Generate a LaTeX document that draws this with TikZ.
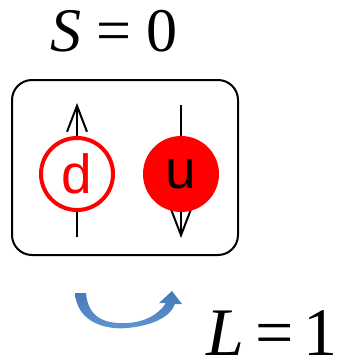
\documentclass[tikz,border=0pt]{standalone}
\usepackage{fontspec}
\setmainfont{Liberation Serif}
\newfontfamily\arialfont{Liberation Sans}
\usetikzlibrary{arrows.meta}
\definecolor{qred}{RGB}{255,0,0}
\definecolor{arrowblue}{RGB}{70,120,180}
\definecolor{arrowlight}{RGB}{95,150,210}
\tikzset{
  quarkopen/.style={circle, draw=qred, line width=4pt, fill=white, minimum size=72pt, inner sep=0pt, font=\arialfont\fontsize{55}{55}\selectfont, text=qred},
  quarkfull/.style={circle, fill=qred, minimum size=76pt, inner sep=0pt, font=\arialfont\fontsize{55}{55}\selectfont, text=black},
  spin/.style={line width=2pt, -{Straight Barb[length=26pt, width=20pt, line width=2pt]}},
  bigmath/.style={inner sep=0pt, anchor=base}
}
\begin{document}
\begin{tikzpicture}[x=1pt, y=-1pt]
\useasboundingbox (0,0) rectangle (341,361);
% labels
\node[bigmath, anchor=base west, font=\fontsize{62}{62}\selectfont] (S) at (50,52) {\textit{S}\hspace{15pt}=\hspace{15pt}0};
\node[bigmath, anchor=base east, font=\fontsize{68}{68}\selectfont] (L) at (338,355) {\textit{L}\hspace{11pt}=\hspace{10pt}1};
% box
\draw[line width=2pt, rounded corners=20pt] (12,80) rectangle (238,255);
% spin arrows
\coordinate (da) at (77,237);
\coordinate (db) at (77,103);
\coordinate (ua) at (181,105);
\coordinate (ub) at (181,238);
\draw[spin] (da) -- (db);
\draw[spin] (ua) -- (ub);
% quarks
\node[quarkopen] (d) at (77,174) {d};
\node[quarkfull] (u) at (181,174) {u};
% curved arrow
\shade[left color=arrowblue, right color=arrowlight, shading angle=0]
  (75,293) .. controls (77,322) and (105,330) .. (127,328)
  .. controls (150,326) and (170,318) .. (175,304)
  -- (182,304) -- (172,291) -- (159,303) -- (166,303)
  .. controls (158,315) and (145,322) .. (127,323)
  .. controls (105,324) and (88,318) .. (86,293) -- cycle;
\end{tikzpicture}
\end{document}
